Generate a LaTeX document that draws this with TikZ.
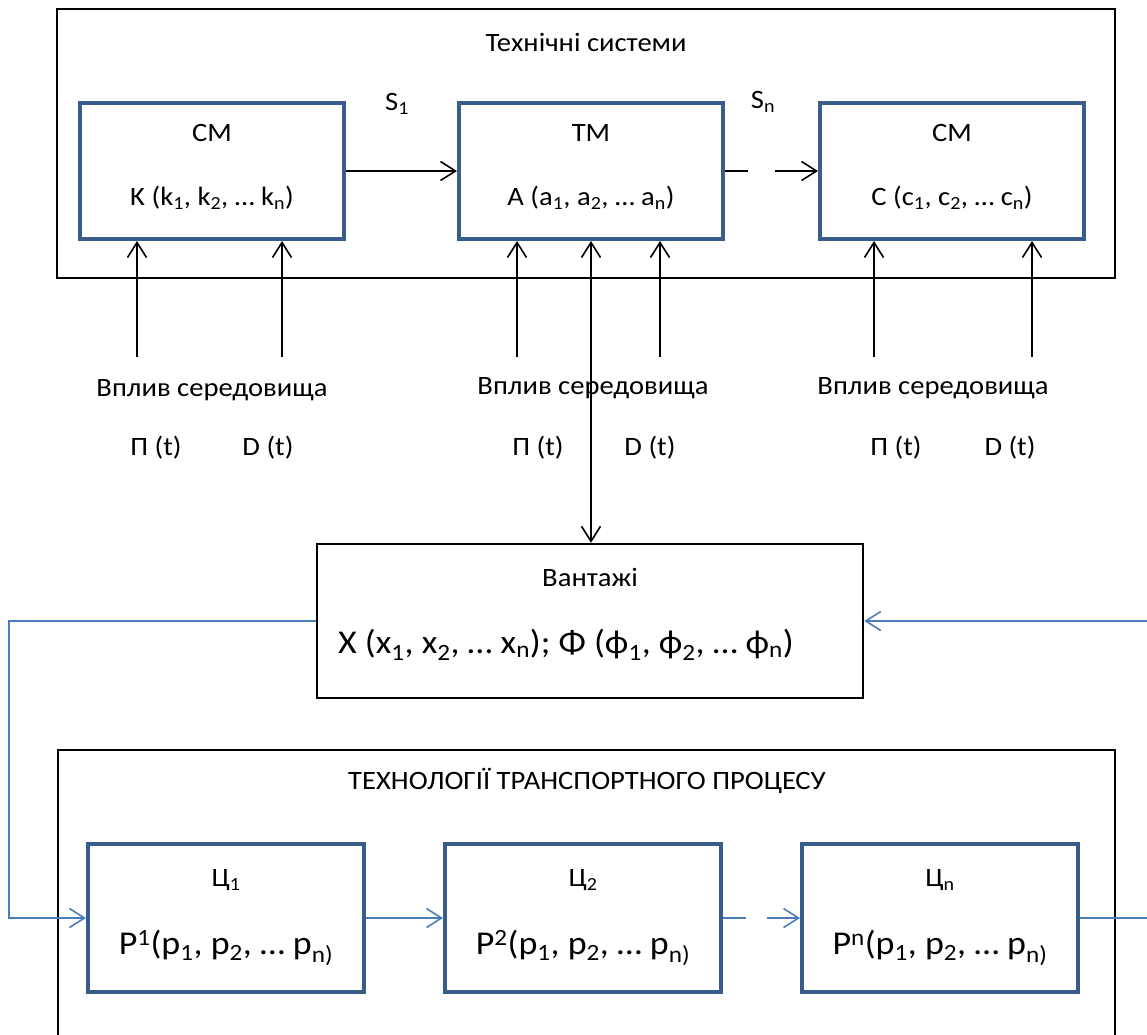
\documentclass[tikz,border=0pt]{standalone}
\usepackage{fontspec}
\setmainfont{Carlito}[FakeStretch=1.08]
\usetikzlibrary{arrows.meta}
\definecolor{boxblue}{RGB}{56,93,138}
\definecolor{linkblue}{RGB}{74,126,187}
\begin{document}
\begin{tikzpicture}[x=1pt, y=-1pt,
  every node/.style={font=\fontsize{26.5}{31}\selectfont},
  frame/.style={draw=black, line width=2.5pt},
  unit/.style={draw=boxblue, line width=4pt, minimum width=264pt, minimum height=136pt, inner sep=0pt},
  cell/.style={draw=boxblue, line width=4pt, minimum width=276pt, minimum height=148pt, inner sep=0pt},
  cargobox/.style={draw=black, line width=2.5pt, minimum width=546pt, minimum height=154pt, inner sep=0pt},
  big/.style={font=\fontsize{33.3}{39}\selectfont},
  arr/.style={draw=black, line width=1.6pt, -{Straight Barb[length=15pt, width=19pt]}},
  blarr/.style={draw=linkblue, line width=1.6pt, -{Straight Barb[length=15pt, width=19pt]}},
  blline/.style={draw=linkblue, line width=1.6pt}]
\useasboundingbox (0,0) rectangle (1147,1034);
\draw[frame] (57,9) rectangle (1115,278);
\node at (586,42) {Технічні системи};
\node[unit] (cm1) at (212,171) {};
\node[unit] (tm) at (591,171) {};
\node[unit] (cm2) at (952,171) {};
\node at (212,133) {СМ};
\node at (212,198) {K (k\textsubscript{1}, k\textsubscript{2}, … k\textsubscript{n})};
\node at (591,133) {ТМ};
\node at (591,198) {A (a\textsubscript{1}, a\textsubscript{2}, … a\textsubscript{n})};
\node at (952,133) {СМ};
\node at (952,198) {C (c\textsubscript{1}, c\textsubscript{2}, … c\textsubscript{n})};
\node at (397,104) {S\textsubscript{1}};
\node at (763,102) {S\textsubscript{n}};
\draw[arr] (cm1) -- (tm);
\draw[arr, dash pattern=on 23pt off 27pt on 200pt] (tm) -- (cm2);
\foreach \x/\b [count=\i] in {137/cm1, 282/cm1, 517/tm, 660/tm, 874/cm2, 1032/cm2} {
  \coordinate (env\i) at (\x,357);
  \draw[arr] (env\i) -- (env\i |- \b.south);
}
\node at (212,390) {Вплив середовища};
\node at (593,388) {Вплив середовища};
\node at (933,388) {Вплив середовища};
\node at (156,448) {П (t)};
\node at (268,448) {D (t)};
\node at (538,448) {П (t)};
\node at (650,448) {D (t)};
\node at (896,448) {П (t)};
\node at (1010,448) {D (t)};
\node[cargobox] (cargo) at (590,621) {};
\node at (590,577) {Вантажі};
\node[big] at (566,645) {X (x\textsubscript{1}, x\textsubscript{2}, … x\textsubscript{n}); Φ (ϕ\textsubscript{1}, ϕ\textsubscript{2}, … ϕ\textsubscript{n})};
\draw[arr, {Straight Barb[length=15pt, width=19pt]}-{Straight Barb[length=15pt, width=19pt]}] (tm.south) -- (tm.south |- cargo.north);
\draw[frame] (58,750) rectangle (1115,1045);
\node at (587,781) {ТЕХНОЛОГІЇ ТРАНСПОРТНОГО ПРОЦЕСУ};
\node[cell] (cy1) at (226,918) {};
\node[cell] (cy2) at (583,918) {};
\node[cell] (cyn) at (940,918) {};
\node at (226,880) {Ц\textsubscript{1}};
\node at (583,880) {Ц\textsubscript{2}};
\node at (940,880) {Ц\textsubscript{n}};
\node[big] at (226,948) {P\textsuperscript{1}(p\textsubscript{1}, p\textsubscript{2}, … p\textsubscript{n)}};
\node[big] at (583,948) {P\textsuperscript{2}(p\textsubscript{1}, p\textsubscript{2}, … p\textsubscript{n)}};
\node[big] at (940,948) {P\textsuperscript{n}(p\textsubscript{1}, p\textsubscript{2}, … p\textsubscript{n)}};
\draw[blarr] (cy1) -- (cy2);
\draw[blarr, dash pattern=on 23pt off 21pt on 200pt] (cy2) -- (cyn);
\coordinate (lft) at (9,0);
\coordinate (rgt) at (1147,0);
\draw[blarr] (cargo.west) -- (cargo.west -| lft) -- (cy1.west -| lft) -- (cy1.west);
\draw[blarr] (cargo.east -| rgt) -- (cargo.east);
\draw[blline] (cyn.east) -- (cyn.east -| rgt);
\end{tikzpicture}
\end{document}
